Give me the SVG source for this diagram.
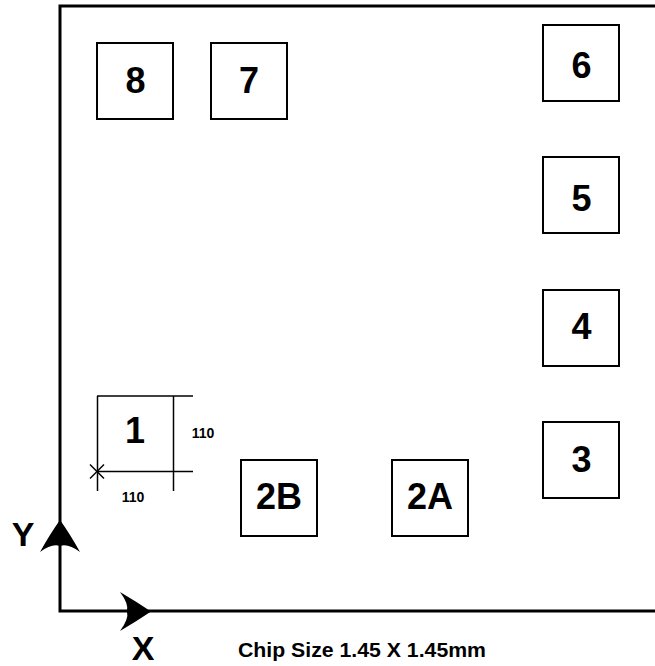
<svg xmlns="http://www.w3.org/2000/svg" width="655" height="666" viewBox="0 0 655 666">
<style>
.pad{fill:#fff;stroke:#000;stroke-width:2}
.lbl{font-family:"Liberation Sans",Arial,sans-serif;font-weight:bold;font-size:36px;text-anchor:middle;fill:#000}
.dim{font-family:"Liberation Sans",Arial,sans-serif;font-weight:bold;font-size:14px;text-anchor:middle;fill:#000}
.ax{font-family:"Liberation Sans",Arial,sans-serif;font-weight:bold;font-size:34px;text-anchor:middle;fill:#000}
.thin{stroke:#000;stroke-width:1.5;fill:none}
.frame{stroke:#000;stroke-width:3;fill:none}
</style>
<rect width="655" height="666" fill="#fff"/>
<g id="frame">
<polyline class="frame" points="655,6 60,6 60,611 655,611"/>
</g>
<g id="connectors">
<path d="M60,520 Q70,534 80,552 Q68,543 60,546 Q52,543 40,552 Q50,534 60,520 Z" fill="#000"/>
<path d="M151,611.5 Q137,602 120,592 Q129,604 127,611.5 Q129,619 120,631 Q137,621 151,611.5 Z" fill="#000"/>
</g>
<g id="pad8"><rect class="pad" x="97" y="43" width="76" height="76"/><text class="lbl" x="135.5" y="93">8</text></g>
<g id="pad7"><rect class="pad" x="211" y="43" width="76" height="76"/><text class="lbl" x="249" y="93">7</text></g>
<g id="pad6"><rect class="pad" x="543" y="25" width="76" height="76"/><text class="lbl" x="581.5" y="78">6</text></g>
<g id="pad5"><rect class="pad" x="543" y="157" width="76" height="76"/><text class="lbl" x="581.5" y="210.5">5</text></g>
<g id="pad4"><rect class="pad" x="543" y="290" width="76" height="76"/><text class="lbl" x="581.5" y="339">4</text></g>
<g id="pad3"><rect class="pad" x="543" y="422" width="76" height="76"/><text class="lbl" x="581.5" y="472">3</text></g>
<g id="pad2B"><rect class="pad" x="241" y="460" width="76" height="76"/><text class="lbl" x="279" y="509">2B</text></g>
<g id="pad2A"><rect class="pad" x="392" y="460" width="76" height="76"/><text class="lbl" x="430" y="509">2A</text></g>
<g id="pad1">
<line class="thin" x1="97" y1="396" x2="193" y2="396"/>
<line class="thin" x1="97" y1="471.5" x2="193" y2="471.5"/>
<line class="thin" x1="97.5" y1="396" x2="97.5" y2="491"/>
<line class="thin" x1="173.5" y1="396" x2="173.5" y2="491"/>
<line class="thin" x1="90" y1="464.5" x2="104" y2="478.5"/>
<line class="thin" x1="90" y1="478.5" x2="104" y2="464.5"/>
<text class="lbl" x="135" y="443">1</text>
<text class="dim" x="203" y="438">110</text>
<text class="dim" x="133" y="502">110</text>
</g>
<text class="ax" x="23" y="546">Y</text>
<text class="ax" x="143" y="660">X</text>
<text x="238" y="657" font-family="Liberation Sans, Arial, sans-serif" font-weight="bold" font-size="20" textLength="248" lengthAdjust="spacingAndGlyphs">Chip Size 1.45 X 1.45mm</text>
</svg>
